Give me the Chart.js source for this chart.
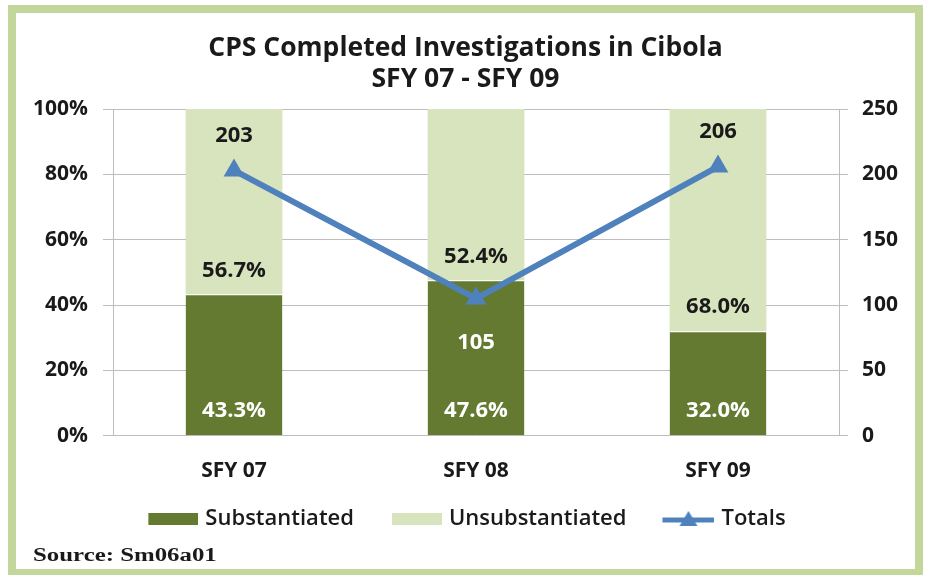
<!DOCTYPE html>
<html><head><meta charset="utf-8">
<script src="https://cdn.jsdelivr.net/npm/chart.js@4"></script>
<style>html,body{margin:0;padding:0;background:#fff}#wrap{width:925px;height:575px;position:relative}</style>
</head><body><div id="wrap"><canvas id="c" width="925" height="575"></canvas></div>
<script>
const categories = ['SFY 07', 'SFY 08', 'SFY 09'];
const substantiated = [43.3, 47.6, 32.0];
const unsubstantiated = [56.7, 52.4, 68.0];
const totals = [203, 105, 206];
const titleLines = ['CPS Completed Investigations in Cibola', 'SFY 07 - SFY 09'];
const sourceText = 'Source: Sm06a01';

const COL_SUB = '#637a30';
const COL_UNSUB = '#d7e4bd';
const COL_LINE = '#4f81bd';
const GRID = '#bdbdbd';
const LEG_W = 83;

function boxImg(color) {
  const c = document.createElement('canvas');
  c.width = LEG_W + 8; c.height = 12;
  const g = c.getContext('2d');
  g.fillStyle = color; g.fillRect(c.width - 50, 0, 50, 12);
  return c;
}
function lineImg(color) {
  const c = document.createElement('canvas');
  c.width = LEG_W + 8; c.height = 18;
  const g = c.getContext('2d');
  const x0 = c.width - 52;
  g.strokeStyle = color; g.lineWidth = 5;
  g.beginPath(); g.moveTo(x0, 10); g.lineTo(c.width, 10); g.stroke();
  g.fillStyle = color;
  const cx = x0 + 26;
  g.beginPath(); g.moveTo(cx, 1); g.lineTo(cx + 9, 16); g.lineTo(cx - 9, 16); g.closePath(); g.fill();
  return c;
}

const framePlugin = {
  id: 'frame',
  afterLayout(chart) {
    if (chart.legend) { chart.legend.left -= 24; chart.legend.right -= 24; }
    if (chart.titleBlock) { chart.titleBlock.left -= 7; chart.titleBlock.right -= 7; }
  },
  beforeDraw(chart) {
    const ctx = chart.ctx;
    ctx.save();
    ctx.fillStyle = '#fff';
    ctx.fillRect(0, 0, chart.width, chart.height);
    ctx.strokeStyle = '#c4d79b';
    ctx.lineWidth = 8;
    ctx.strokeRect(12, 9, 907, 564);
    ctx.restore();
  },
  afterDraw(chart) {
    const ctx = chart.ctx;
    ctx.save();
    ctx.font = 'bold 18px "Liberation Serif"';
    ctx.fillStyle = '#1a1a1a';
    ctx.textBaseline = 'middle';
    ctx.translate(33, 556);
    ctx.scale(1.38, 1);
    ctx.fillText(sourceText, 0, 0);
    ctx.restore();
  }
};

const valuePlugin = {
  id: 'values',
  afterDatasetsDraw(chart) {
    const ctx = chart.ctx;
    ctx.save();
    ctx.font = 'bold 22px "Open Sans"';
    ctx.textAlign = 'center';
    ctx.textBaseline = 'middle';
    chart.getDatasetMeta(0).data.forEach((el, i) => {
      ctx.fillStyle = '#ffffff';
      ctx.fillText(substantiated[i].toFixed(1) + '%', el.x, el.base - 25);
    });
    chart.getDatasetMeta(1).data.forEach((el, i) => {
      ctx.fillStyle = '#1a1a1a';
      ctx.fillText(unsubstantiated[i].toFixed(1) + '%', el.x, el.base - 24);
    });
    chart.getDatasetMeta(2).data.forEach((el, i) => {
      const prev = i > 0 ? totals[i - 1] : -Infinity;
      const next = i < totals.length - 1 ? totals[i + 1] : -Infinity;
      const isDip = totals[i] < prev && totals[i] < next;
      ctx.fillStyle = isDip ? '#ffffff' : '#1a1a1a';
      ctx.fillText(String(totals[i]), el.x, isDip ? el.y + 44 : el.y - 35);
    });
    ctx.restore();
  }
};

new Chart(document.getElementById('c'), {
  data: {
    labels: categories,
    datasets: [
      { type: 'bar', label: 'Substantiated', data: substantiated, backgroundColor: COL_SUB,
        borderColor: '#ffffff', borderWidth: {top: 1, left: 0, right: 0, bottom: 0}, borderSkipped: false,
        yAxisID: 'y', stack: 's', order: 2, barPercentage: 0.4, categoryPercentage: 1 },
      { type: 'bar', label: 'Unsubstantiated', data: unsubstantiated, backgroundColor: COL_UNSUB,
        borderWidth: 0, yAxisID: 'y', stack: 's', order: 2, barPercentage: 0.4, categoryPercentage: 1 },
      { type: 'line', label: 'Totals', data: totals, borderColor: COL_LINE, backgroundColor: COL_LINE,
        borderWidth: 6, pointStyle: 'triangle', pointRadius: 12, pointBorderWidth: 0,
        yAxisID: 'y1', order: 0, tension: 0 }
    ]
  },
  options: {
    responsive: false,
    animation: false,
    layout: { padding: { left: 20, right: 0, top: 8, bottom: 35 } },
    scales: {
      x: {
        stacked: true,
        grid: { display: false, drawTicks: false },
        border: { display: false },
        ticks: { padding: 23, color: '#1a1a1a', font: { family: 'Open Sans', weight: 'bold', size: 21 } }
      },
      y: {
        position: 'left', stacked: true, min: 0, max: 100,
        ticks: { stepSize: 20, padding: 15, color: '#1a1a1a', callback: v => v + '%',
                 font: { family: 'Open Sans', weight: 'bold', size: 21 } },
        grid: { color: GRID, lineWidth: 1, tickLength: 10 },
        border: { display: true, color: GRID, width: 1 },
        afterFit: s => { s.width = 93; }
      },
      y1: {
        position: 'right', min: 0, max: 250,
        ticks: { stepSize: 50, padding: 14, color: '#1a1a1a',
                 font: { family: 'Open Sans', weight: 'bold', size: 21 } },
        grid: { drawOnChartArea: false, color: GRID, tickLength: 9 },
        border: { display: true, color: GRID, width: 1 },
        afterFit: s => { s.width = 86; }
      }
    },
    plugins: {
      title: {
        display: true, text: titleLines, color: '#1a1a1a',
        font: { family: 'Open Sans', weight: 'bold', size: 26.5, lineHeight: 1.17 },
        padding: { top: 25, bottom: 14 }
      },
      legend: {
        position: 'bottom',
        labels: {
          usePointStyle: true, pointStyleWidth: LEG_W, padding: 1, color: '#1a1a1a',
          font: { family: 'Open Sans', weight: '600', size: 22 },
          generateLabels: chart => [
            { text: 'Substantiated', pointStyle: boxImg(COL_SUB), datasetIndex: 0, fontColor: '#1a1a1a', lineWidth: 0 },
            { text: 'Unsubstantiated', pointStyle: boxImg(COL_UNSUB), datasetIndex: 1, fontColor: '#1a1a1a', lineWidth: 0 },
            { text: 'Totals', pointStyle: lineImg(COL_LINE), datasetIndex: 2, fontColor: '#1a1a1a', lineWidth: 0 }
          ]
        }
      },
      tooltip: { enabled: false }
    }
  },
  plugins: [framePlugin, valuePlugin]
});
</script>
</body></html>
